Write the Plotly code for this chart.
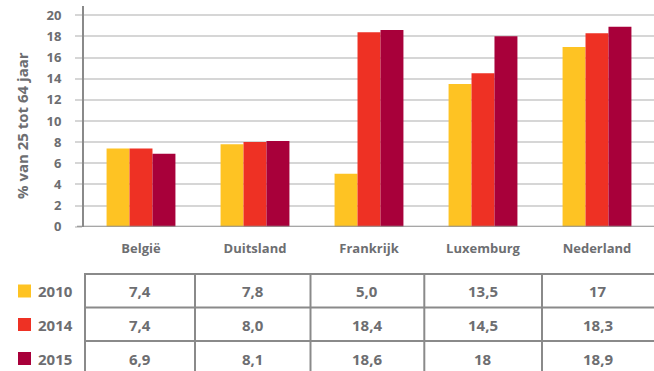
import plotly.graph_objects as go

# Data
countries = ["België", "Duitsland", "Frankrijk", "Luxemburg", "Nederland"]
years = ["2010", "2014", "2015"]
v2010 = [7.4, 7.8, 5.0, 13.5, 17]
v2014 = [7.4, 8.0, 18.4, 14.5, 18.3]
v2015 = [6.9, 8.1, 18.6, 18, 18.9]
table_text = [
    ["7,4", "7,8", "5,0", "13,5", "17"],
    ["7,4", "8,0", "18,4", "14,5", "18,3"],
    ["6,9", "8,1", "18,6", "18", "18,9"],
]
y_ticks = list(range(0, 21, 2))
y_title = "% van 25 tot 64 jaar"

W, H = 654, 371
colors = ["#FEC323", "#EE3124", "#A8003A"]
TXT = "#6d6e71"
LINE = "#8a8a8a"
GRID = "#d6d6d6"
FONT = "Open Sans"


def px(x):
    return x / W


def py(y):
    return 1 - y / H


series = [v2010, v2014, v2015]
fig = go.Figure()
for yr, vals, col in zip(years, series, colors):
    fig.add_trace(go.Bar(
        x=list(range(len(countries))), y=vals, name=yr,
        marker=dict(color=col, line=dict(width=0)),
        showlegend=False,
    ))

shapes = []
annotations = []

# x-axis baseline (extends slightly left of the y axis)
shapes.append(dict(type="line", xref="paper", yref="y", x0=px(77), x1=1,
                   y0=0, y1=0, line=dict(color=LINE, width=2), layer="above"))

# y-axis title
annotations.append(dict(text=y_title, xref="paper", yref="paper",
                        x=px(22), y=py(126), textangle=-90,
                        xanchor="center", yanchor="middle", showarrow=False,
                        font=dict(family=FONT, size=15, color=TXT, weight="bold")))

# data table grid
row_lines = [274, 307.5, 341]
col_lines = [85, 195, 310.5, 424.3, 542]
for yl in row_lines:
    shapes.append(dict(type="line", xref="paper", yref="paper",
                       x0=px(85), x1=1, y0=py(yl), y1=py(yl),
                       line=dict(color=LINE, width=2)))
for xl in col_lines:
    shapes.append(dict(type="line", xref="paper", yref="paper",
                       x0=px(xl), x1=px(xl), y0=py(273), y1=0,
                       line=dict(color=LINE, width=2)))

row_centers = [291, 324.5, 358.5]
cell_centers = [(col_lines[i] + (col_lines[i + 1] if i + 1 < len(col_lines) else W)) / 2
                for i in range(len(col_lines))]
for r, (yr, col) in enumerate(zip(years, colors)):
    yc = row_centers[r]
    # legend swatch
    shapes.append(dict(type="rect", xref="paper", yref="paper",
                       x0=px(18), x1=px(31), y0=py(yc - 6.5), y1=py(yc + 6.5),
                       fillcolor=col, line=dict(width=0)))
    annotations.append(dict(text=yr, xref="paper", yref="paper",
                            x=px(36), y=py(yc), xanchor="left", yanchor="middle",
                            showarrow=False,
                            font=dict(family=FONT, size=15, color=TXT, weight="bold")))
    for c in range(len(countries)):
        annotations.append(dict(text=table_text[r][c], xref="paper", yref="paper",
                                x=px(cell_centers[c]), y=py(yc),
                                xanchor="center", yanchor="middle", showarrow=False,
                                font=dict(family=FONT, size=15, color=TXT, weight="bold")))

fig.update_layout(
    width=W, height=H,
    margin=dict(l=0, r=0, t=0, b=0, autoexpand=False),
    paper_bgcolor="white", plot_bgcolor="white",
    barmode="group", bargap=0.396, bargroupgap=0,
    shapes=shapes, annotations=annotations,
    xaxis=dict(
        domain=[px(84), 1], range=[-0.5, 4.5], automargin=False,
        tickmode="array", tickvals=list(range(len(countries))), ticktext=countries,
        showgrid=False, zeroline=False, showline=False, ticks="",
        ticklabelstandoff=12,
        tickfont=dict(family=FONT, size=13, color=TXT, weight="bold"),
    ),
    yaxis=dict(
        domain=[py(226.7), py(5.7)], range=[0, 20.9], automargin=False,
        tickmode="array", tickvals=y_ticks,
        showgrid=True, gridcolor=GRID, gridwidth=2,
        zeroline=False, showline=True, linecolor=LINE, linewidth=2,
        ticks="outside", ticklen=7, tickcolor=GRID, tickwidth=2,
        ticklabelstandoff=11,
        tickfont=dict(family=FONT, size=13, color=TXT, weight="bold"),
    ),
)

fig.write_html("out.html")
